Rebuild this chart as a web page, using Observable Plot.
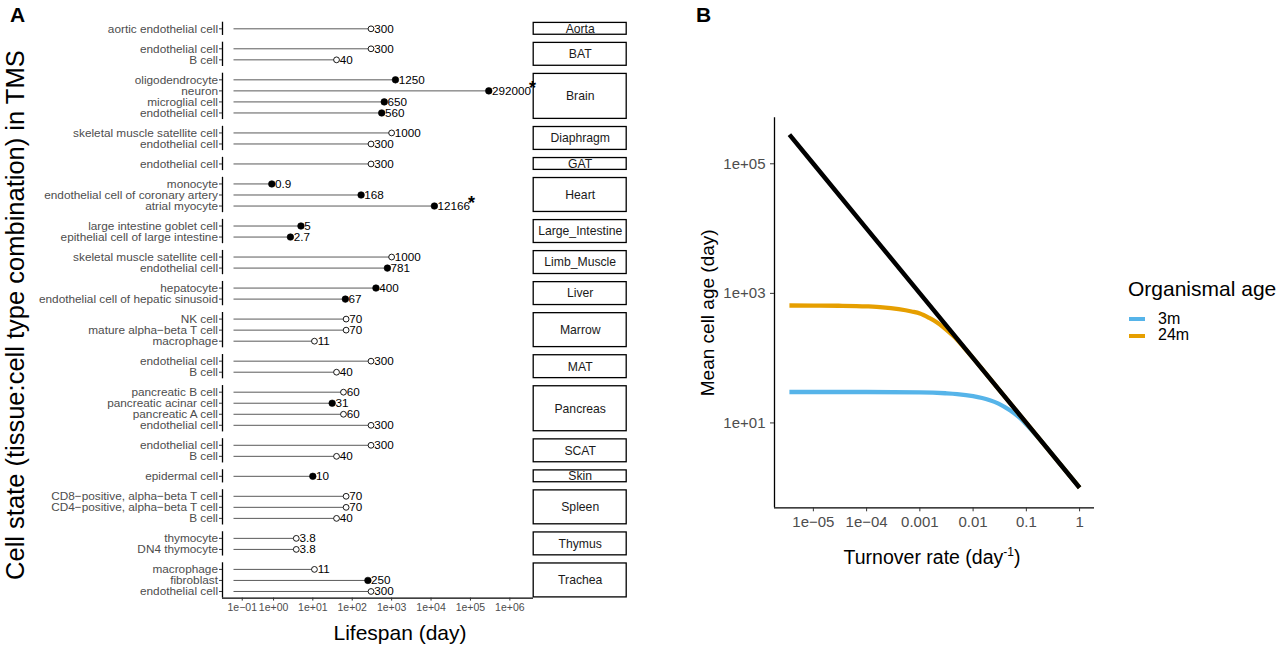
<!DOCTYPE html>
<html>
<head>
<meta charset="utf-8">
<script src="https://cdn.jsdelivr.net/npm/d3@7"></script>
<script src="https://cdn.jsdelivr.net/npm/@observablehq/plot@0.6"></script>
<style>
  html, body { margin: 0; padding: 0; background: #fff; }
  #fig { position: relative; width: 1280px; height: 650px; overflow: hidden;
         font-family: "Liberation Sans", Arial, Helvetica, sans-serif; color: #000; }
  .abs { position: absolute; }
  .panel-tag { font-weight: bold; font-size: 21px; }
  .legend-title { font-size: 21px; }
  .legend-item { font-size: 16px; }
  .key { position: absolute; width: 16px; height: 4px; }
</style>
</head>
<body>
<div id="fig">
  <div class="abs panel-tag" style="left:10px; top:3px;">A</div>
  <div class="abs panel-tag" style="left:696px; top:3px;">B</div>
  <div class="abs" style="left:932px; top:557px; transform:translate(-50%,-50%); font-size:19.5px; white-space:nowrap;">Turnover rate (day<sup style="font-size:12px;">-1</sup>)</div>
  <div class="abs legend-title" style="left:1128px; top:277px; white-space:nowrap;">Organismal age</div>
  <div id="legend"></div>
</div>
<script>
// ---- Panel A: estimated lifespan per tissue:cell type ----
const tissues = ["Aorta", "BAT", "Brain", "Diaphragm", "GAT", "Heart", "Large_Intestine",
  "Limb_Muscle", "Liver", "Marrow", "MAT", "Pancreas", "SCAT", "Skin", "Spleen", "Thymus", "Trachea"];

const rowTissue = [
  "Aorta",
  "BAT", "BAT",
  "Brain", "Brain", "Brain", "Brain",
  "Diaphragm", "Diaphragm",
  "GAT",
  "Heart", "Heart", "Heart",
  "Large_Intestine", "Large_Intestine",
  "Limb_Muscle", "Limb_Muscle",
  "Liver", "Liver",
  "Marrow", "Marrow", "Marrow",
  "MAT", "MAT",
  "Pancreas", "Pancreas", "Pancreas", "Pancreas",
  "SCAT", "SCAT",
  "Skin",
  "Spleen", "Spleen", "Spleen",
  "Thymus", "Thymus",
  "Trachea", "Trachea", "Trachea"
];
const cellTypes = [
  "aortic endothelial cell",
  "endothelial cell", "B cell",
  "oligodendrocyte", "neuron", "microglial cell", "endothelial cell",
  "skeletal muscle satellite cell", "endothelial cell",
  "endothelial cell",
  "monocyte", "endothelial cell of coronary artery", "atrial myocyte",
  "large intestine goblet cell", "epithelial cell of large intestine",
  "skeletal muscle satellite cell", "endothelial cell",
  "hepatocyte", "endothelial cell of hepatic sinusoid",
  "NK cell", "mature alpha\u2212beta T cell", "macrophage",
  "endothelial cell", "B cell",
  "pancreatic B cell", "pancreatic acinar cell", "pancreatic A cell", "endothelial cell",
  "endothelial cell", "B cell",
  "epidermal cell",
  "CD8\u2212positive, alpha\u2212beta T cell", "CD4\u2212positive, alpha\u2212beta T cell", "B cell",
  "thymocyte", "DN4 thymocyte",
  "macrophage", "fibroblast", "endothelial cell"
];
const lifespans = [
  300,
  300, 40,
  1250, 292000, 650, 560,
  1000, 300,
  300,
  0.9, 168, 12166,
  5, 2.7,
  1000, 781,
  400, 67,
  70, 70, 11,
  300, 40,
  60, 31, 60, 300,
  300, 40,
  10,
  70, 70, 40,
  3.8, 3.8,
  11, 250, 300
];
// true = measured in this study (filled dot), false = literature value (open dot)
const measured = [
  false,
  false, false,
  true, true, true, true,
  false, false,
  false,
  true, true, true,
  true, true,
  false, true,
  true, true,
  false, false, false,
  false, false,
  false, true, false, false,
  false, false,
  true,
  false, false, false,
  false, false,
  false, true, false
];
const starred = [
  false,
  false, false,
  false, true, false, false,
  false, false,
  false,
  false, false, true,
  false, false,
  false, false,
  false, false,
  false, false, false,
  false, false,
  false, false, false, false,
  false, false,
  false,
  false, false, false,
  false, false,
  false, false, false
];
const lifespanTicks = [0.1, 1, 10, 100, 1e3, 1e4, 1e5, 1e6];
const lifespanTickLabels = ["1e\u221201", "1e+00", "1e+01", "1e+02", "1e+03", "1e+04", "1e+05", "1e+06"];

// ---- Panel B: mean cell age vs turnover rate ----
const rateNoAging = [3.55e-6, 1e-5, 1e-4, 1e-3, 1e-2, 1e-1, 1];
const ageNoAging = [282000, 1e5, 1e4, 1e3, 100, 10, 1];
const rate24m = [3.55e-6, 1e-5, 3e-5, 1e-4, 2e-4, 4e-4, 7e-4, 1e-3, 1.5e-3, 2e-3, 3e-3, 4e-3, 5e-3, 7e-3, 1e-2, 3e-2, 0.1, 0.3, 1];
const age24m = [650, 648, 644, 630, 610, 570, 525, 490, 418, 365, 283, 230, 193, 141, 100, 33.3, 10, 3.33, 1];
const rate3m = [3.55e-6, 1e-4, 1e-3, 3e-3, 5e-3, 1e-2, 2e-2, 3e-2, 5e-2, 7e-2, 0.1, 0.2, 0.5, 1];
const age3m = [30, 30, 29.6, 28.7, 27.9, 25.9, 22.6, 19.9, 15.5, 12.6, 9.5, 5.0, 2.0, 1.0];
const turnoverTicks = [1e-5, 1e-4, 1e-3, 1e-2, 0.1, 1];
const turnoverTickLabels = ["1e\u221205", "1e\u221204", "0.001", "0.01", "0.1", "1"];
const ageTicks = [10, 1e3, 1e5];
const ageTickLabels = ["1e+01", "1e+03", "1e+05"];
const groups = ["3m", "24m"];
const groupColors = ["#56B4E9", "#E69F00"];

const FONT = "'Liberation Sans', Arial, Helvetica, sans-serif";
const fig = document.getElementById("fig");

// pseudo-log transform (sigma = 0.1) used for the lifespan axis
const pseudoLog = v => Math.asinh(v / 0.2);

// lay out rows facet by facet; each facet spans its rows plus 0.6 on each side
const FACET_GAP = 0.61;
const rows = [];
const facets = [];
let cursor = 0;
tissues.forEach(t => {
  const idx = rowTissue.map((r, i) => r === t ? i : -1).filter(i => i >= 0);
  const start = cursor;
  idx.forEach((i, k) => rows.push({
    tissue: t, cell: cellTypes[i], value: lifespans[i], filled: measured[i], star: starred[i], pos: start + k
  }));
  const end = start + idx.length - 1;
  facets.push({ tissue: t, y1: start - 0.6, y2: end + 0.6, mid: (start + end) / 2 });
  cursor = end + 1.2 + FACET_GAP;
});
const yDomain = [facets[0].y1, facets[facets.length - 1].y2];
const yRange = [21.7, 597.6];
const xDomainA = [-0.672, 17.5];

const cellByPos = new Map(rows.map(d => [d.pos, d.cell]));
const lifespanLabelByPos = new Map(lifespanTicks.map((v, i) => [pseudoLog(v), lifespanTickLabels[i]]));

// tissue strips on the right of panel A (drawn first so labels may overlap them)
const strips = Plot.plot({
  width: 96, height: 650,
  marginLeft: 1.2, marginRight: 1.8, marginTop: yRange[0], marginBottom: 650 - yRange[1],
  style: { fontFamily: FONT, background: "transparent", overflow: "visible" },
  x: { domain: [0, 1], axis: null },
  y: { domain: yDomain, range: yRange, axis: null },
  marks: [
    Plot.rect(facets, { x1: () => 0, x2: () => 1, y1: "y1", y2: "y2", insetTop: 0.7, insetBottom: 0.7, fill: "white", stroke: "black", strokeWidth: 1.3 }),
    Plot.text(facets, { x: () => 0.5, y: "mid", text: "tissue", fontSize: 12.2, fill: "#1a1a1a" })
  ]
});
strips.style.position = "absolute";
strips.style.left = "532px";
strips.style.top = "0px";
fig.appendChild(strips);

const plotA = Plot.plot({
  width: 540, height: 650,
  marginLeft: 222, marginRight: 7, marginTop: yRange[0], marginBottom: 650 - yRange[1],
  style: { fontFamily: FONT, background: "transparent", overflow: "visible" },
  x: { domain: xDomainA, range: [222, 533] },
  y: { domain: yDomain, range: yRange },
  marks: [
    Plot.ruleY(rows, { y: "pos", x1: () => pseudoLog(0), x2: d => pseudoLog(d.value), stroke: "#5a5a5a", strokeWidth: 1 }),
    Plot.dot(rows.filter(d => !d.filled), { x: d => pseudoLog(d.value), y: "pos", r: 2.9, fill: "white", stroke: "black", strokeWidth: 0.9 }),
    Plot.dot(rows.filter(d => d.filled), { x: d => pseudoLog(d.value), y: "pos", r: 3.3, fill: "black", stroke: "black", strokeWidth: 0.6 }),
    Plot.text(rows, {
      x: d => pseudoLog(d.value), y: "pos", text: d => String(d.value) + (d.star ? "*" : ""),
      dx: 3.2, textAnchor: "start", fontSize: 11.7, fill: "black"
    }),
    Plot.ruleX(facets, { x: () => xDomainA[0], y1: "y1", y2: "y2", stroke: "black", strokeWidth: 1.3 }),
    Plot.ruleY([yDomain[1]], { stroke: "black", strokeWidth: 1.3 }),
    Plot.axisY({
      ticks: rows.map(d => d.pos), tickFormat: p => cellByPos.get(p),
      tickSize: 3, tickPadding: 1.5, fontSize: 11.8, stroke: "#333", fill: "#4d4d4d", label: null
    }),
    Plot.axisX({
      ticks: lifespanTicks.map(pseudoLog), tickFormat: p => lifespanLabelByPos.get(p),
      tickSize: 3, tickPadding: 2.5, fontSize: 10.5, stroke: "#333", fill: "#4d4d4d", label: null
    }),
    Plot.text(["Lifespan (day)"], { frameAnchor: "bottom", dx: 22, dy: 42, fontSize: 21, fill: "black" }),
    Plot.text(["Cell state (tissue:cell type combination) in TMS"], {
      frameAnchor: "left", textAnchor: "middle", dx: -207, dy: 5, rotate: -90, fontSize: 25.5, fill: "black"
    })
  ]
});
// raise the asterisk that flags extrapolated lifespans
d3.select(plotA).selectAll("text").each(function () {
  const s = this.textContent;
  if (/^[0-9.]+\*$/.test(s)) {
    this.textContent = s.slice(0, -1);
    d3.select(this).append("tspan").attr("dy", "-0.05em").attr("dx", "-2")
      .attr("font-size", "18px").attr("font-weight", "bold").text("*");
  }
});
plotA.style.position = "absolute";
plotA.style.left = "0px";
plotA.style.top = "0px";
fig.appendChild(plotA);

// ---- Panel B ----
const toRows = (xs, ys, g) => xs.map((x, i) => ({ rate: x, age: ys[i], group: g }));
const noAging = toRows(rateNoAging, ageNoAging, "none");
const s3m = toRows(rate3m, age3m, "3m");
const s24m = toRows(rate24m, age24m, "24m");
const turnoverLabel = new Map(turnoverTicks.map((v, i) => [v, turnoverTickLabels[i]]));
const ageLabel = new Map(ageTicks.map((v, i) => [v, ageTickLabels[i]]));
const xDomainB = [10 ** -5.73, 10 ** 0.28];
const yDomainB = [10 ** -0.31, 10 ** 5.71];

const plotB = Plot.plot({
  width: 440, height: 650,
  marginLeft: 94, marginRight: 26, marginTop: 117.3, marginBottom: 142.7,
  style: { fontFamily: FONT, background: "transparent", overflow: "visible" },
  x: { type: "log", domain: xDomainB },
  y: { type: "log", domain: yDomainB },
  marks: [
    Plot.line(s3m, { x: "rate", y: "age", stroke: groupColors[0], strokeWidth: 4.3, curve: "monotone-x", strokeLinecap: "butt" }),
    Plot.line(s24m, { x: "rate", y: "age", stroke: groupColors[1], strokeWidth: 4.3, curve: "monotone-x", strokeLinecap: "butt" }),
    Plot.line(noAging, { x: "rate", y: "age", stroke: "black", strokeWidth: 4.5, strokeLinecap: "butt" }),
    Plot.ruleX([xDomainB[0]], { stroke: "black", strokeWidth: 1.3 }),
    Plot.ruleY([yDomainB[0]], { stroke: "black", strokeWidth: 1.3 }),
    Plot.axisX({
      ticks: turnoverTicks, tickFormat: v => turnoverLabel.get(v),
      tickSize: 4, tickPadding: 5, fontSize: 15, stroke: "#333", fill: "#4d4d4d", label: null
    }),
    Plot.axisY({
      ticks: ageTicks, tickFormat: v => ageLabel.get(v),
      tickSize: 4, tickPadding: 5, fontSize: 15, stroke: "#333", fill: "#4d4d4d", label: null
    }),
    Plot.text(["Mean cell age (day)"], { frameAnchor: "left", textAnchor: "middle", dx: -67, rotate: -90, fontSize: 19, fill: "black" })
  ]
});
plotB.style.position = "absolute";
plotB.style.left = "680px";
plotB.style.top = "0px";
fig.appendChild(plotB);

// legend for organismal age
const legend = document.getElementById("legend");
groups.forEach((g, i) => {
  const top = 319 + i * 16.5;
  const key = document.createElement("div");
  key.className = "key";
  key.style.left = "1129px";
  key.style.top = (top - 2) + "px";
  key.style.background = groupColors[i];
  legend.appendChild(key);
  const lab = document.createElement("div");
  lab.className = "abs legend-item";
  lab.style.left = "1158px";
  lab.style.top = (top - 9.5) + "px";
  lab.textContent = g;
  legend.appendChild(lab);
});
</script>
</body>
</html>
